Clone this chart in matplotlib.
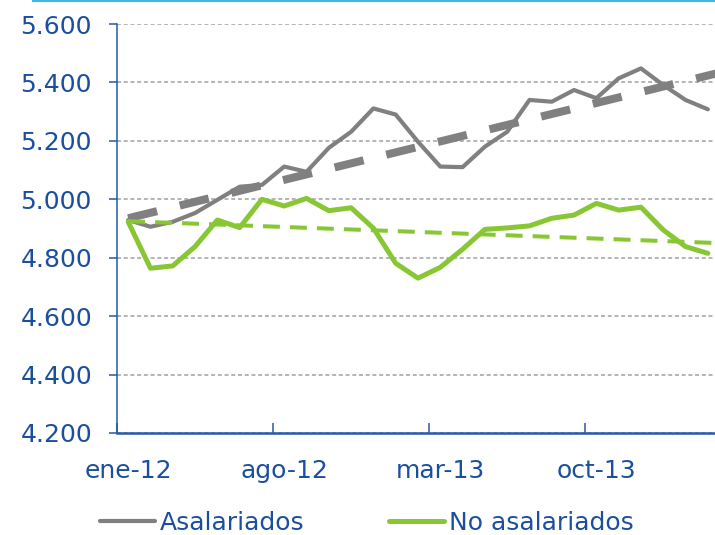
import matplotlib.pyplot as plt
from matplotlib.lines import Line2D
from matplotlib.ticker import FuncFormatter

# Monthly data, ene-12 .. mar-14 (thousands)
months = ['ene-12', 'feb-12', 'mar-12', 'abr-12', 'may-12', 'jun-12', 'jul-12',
          'ago-12', 'sep-12', 'oct-12', 'nov-12', 'dic-12', 'ene-13', 'feb-13',
          'mar-13', 'abr-13', 'may-13', 'jun-13', 'jul-13', 'ago-13', 'sep-13',
          'oct-13', 'nov-13', 'dic-13', 'ene-14', 'feb-14', 'mar-14']
asalariados = [4929, 4906, 4923, 4953, 4998, 5043, 5049, 5112, 5094, 5176, 5231,
               5311, 5290, 5197, 5112, 5110, 5180, 5231, 5340, 5334, 5374, 5346,
               5414, 5448, 5391, 5340, 5308]
no_asalariados = [4923, 4764, 4772, 4838, 4929, 4903, 5000, 4977, 5003, 4961, 4971,
                  4901, 4781, 4730, 4767, 4829, 4897, 4902, 4909, 4935, 4946, 4986,
                  4963, 4973, 4895, 4838, 4815]
# trend lines (start / end values as drawn in the source chart)
trend_x = [0, 26.5]
trend_asalariados = [4935, 5433]
trend_no_asalariados = [4925, 4850]

yticks = [4200, 4400, 4600, 4800, 5000, 5200, 5400, 5600]
label_every = 7

GRAY = '#808080'
GREEN = '#88C733'
BLUE = '#1B4F9E'
AXBLUE = '#2559AA'

fig = plt.figure(figsize=(7.15, 5.35), dpi=100)
ax = fig.add_axes([117 / 715, 1 - 433 / 535, 602 / 715, 409 / 535])

x = list(range(len(months)))
l1, = ax.plot(x, asalariados, color=GRAY, lw=3.0, solid_capstyle='round',
              solid_joinstyle='round', label='Asalariados', zorder=3)
ax.plot(trend_x, trend_asalariados, color=GRAY, lw=5.8, dashes=(3.7, 2.9),
        dash_capstyle='butt', zorder=3)
l2, = ax.plot(x, no_asalariados, color=GREEN, lw=3.6, solid_capstyle='round',
              solid_joinstyle='round', label='No asalariados', zorder=4)
ax.plot(trend_x, trend_no_asalariados, color=GREEN, lw=2.9, dashes=(4.2, 2.5),
        dash_capstyle='butt', zorder=4)

ax.set_ylim(4200, 5600)
ax.set_xlim(-0.5, len(months) - 0.5)
ax.set_yticks(yticks)
ax.yaxis.set_major_formatter(FuncFormatter(lambda v, p: f'{v:,.0f}'.replace(',', '.')))
ax.yaxis.grid(True, color='#A0A0A0', lw=1.1, dashes=(2.6, 1.8))
ax.set_axisbelow(True)

# ticks on category boundaries, labels on category centres
ax.set_xticks([i - 0.5 for i in x[::label_every]])
ax.set_xticklabels([])
ax.set_xticks(x[::label_every], minor=True)
ax.set_xticklabels(months[::label_every], minor=True)
ax.tick_params(axis='x', which='major', direction='in', length=7, width=1.1, color=AXBLUE)
ax.tick_params(axis='x', which='minor', length=0, pad=19, labelsize=18, labelcolor=BLUE)
ax.tick_params(axis='y', direction='out', length=6, width=1.1, color=AXBLUE,
               pad=12, labelsize=18, labelcolor=BLUE)

for s in ['top', 'right']:
    ax.spines[s].set_visible(False)
ax.spines['left'].set_color(AXBLUE)
ax.spines['left'].set_linewidth(1.1)
ax.spines['bottom'].set_color(AXBLUE)
ax.spines['bottom'].set_linewidth(1.8)

# thin light-blue rule along the top
fig.add_artist(Line2D([33 / 715, 1], [0.998, 0.998], color='#41B6E6', lw=1.5))

leg = fig.legend(handles=[l1, l2], loc='center', bbox_to_anchor=(367 / 715, 1 - 523 / 535),
                 ncol=2, frameon=False, fontsize=18, handlelength=2.2,
                 handletextpad=0.2, columnspacing=3.4, borderaxespad=0)
for t in leg.get_texts():
    t.set_color(BLUE)

fig.savefig('out.png', dpi=100)
